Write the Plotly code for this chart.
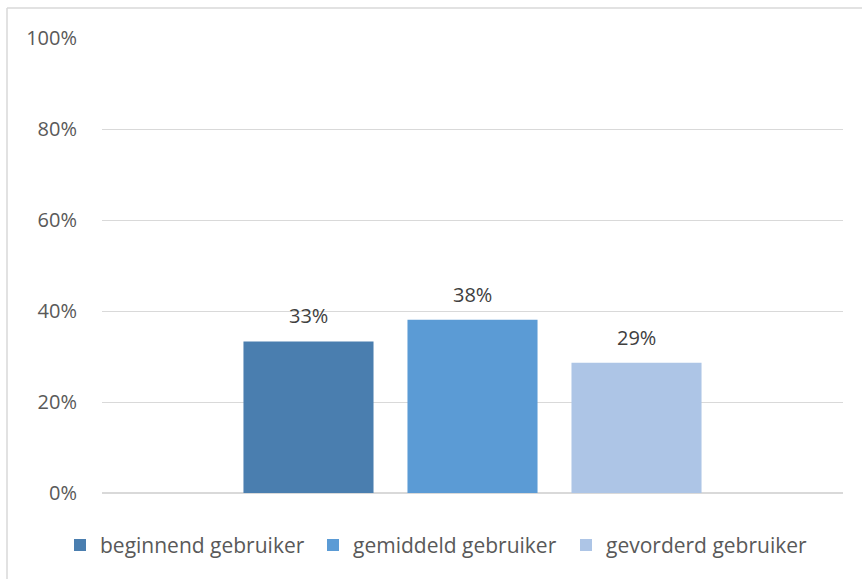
import plotly.graph_objects as go

# Share of respondents per user level
levels = ["beginnend gebruiker", "gemiddeld gebruiker", "gevorderd gebruiker"]
shares = [0.333, 0.381, 0.286]
colors = ["#4A7EAF", "#5B9BD5", "#ADC5E6"]
category = ["niveau"]

y_ticks = [0, 0.2, 0.4, 0.6, 0.8, 1.0]
y_tick_text = ["0%", "20%", "40%", "60%", "80%", "100%"]

W, H = 862, 579
M_L, M_R, M_T, M_B = 102, 19, 38, 86
BARGAP = 0.336
GROUPGAP = 0.207
FONT = "Open Sans"
FS = 20

fig = go.Figure()
for name, val, col in zip(levels, shares, colors):
    fig.add_trace(go.Bar(
        x=category, y=[val], name=name,
        marker=dict(color=col, line=dict(width=0)),
    ))

# value labels above each bar
plot_w = W - M_L - M_R
slot = plot_w * (1 - BARGAP) / len(levels)
annotations = []
for i, val in enumerate(shares):
    annotations.append(dict(
        x=category[0], y=val, xref="x", yref="y",
        text=f"{val:.0%}", showarrow=False,
        xshift=(i - (len(levels) - 1) / 2) * slot,
        yanchor="bottom", yshift=10,
        font=dict(family=FONT, size=FS, color="#404040"),
    ))

# outer frame lines (left and top)
x_left = (7 - M_L) / plot_w
plot_h = H - M_T - M_B
y_top = 1 + (M_T - 8) / plot_h
y_bot = -(M_B + 5) / plot_h
x_right = 1 + (M_R + 5) / plot_w
shapes = [
    dict(type="line", xref="paper", yref="paper", x0=x_left, x1=x_left,
         y0=y_bot, y1=y_top, line=dict(color="#D9D9D9", width=1.5), layer="below"),
    dict(type="line", xref="paper", yref="paper", x0=x_left, x1=x_right,
         y0=y_top, y1=y_top, line=dict(color="#D9D9D9", width=1.5), layer="below"),
]

fig.update_layout(
    width=W, height=H,
    margin=dict(l=M_L, r=M_R, t=M_T, b=M_B),
    paper_bgcolor="white", plot_bgcolor="white",
    barmode="group", bargap=BARGAP, bargroupgap=GROUPGAP,
    font=dict(family=FONT, size=FS, color="#595959"),
    showlegend=True,
    legend=dict(
        orientation="h", x=(60 - M_L) / plot_w, xanchor="left",
        y=-0.07, yanchor="top",
        font=dict(family=FONT, size=21, color="#595959"),
        entrywidth=208, entrywidthmode="pixels", traceorder="normal",
    ),
    annotations=annotations,
    shapes=shapes,
)
fig.update_xaxes(showticklabels=False, showgrid=False, zeroline=False,
                 showline=False, ticks="")
fig.update_yaxes(range=[0, 1], tickvals=y_ticks, ticktext=y_tick_text,
                 showgrid=True, gridcolor="#D9D9D9", gridwidth=1,
                 zeroline=True, zerolinecolor="#D9D9D9", zerolinewidth=1.5,
                 showline=False, ticks="", ticklabelstandoff=24,
                 tickfont=dict(family=FONT, size=FS, color="#595959"))

fig.write_html("out.html")
